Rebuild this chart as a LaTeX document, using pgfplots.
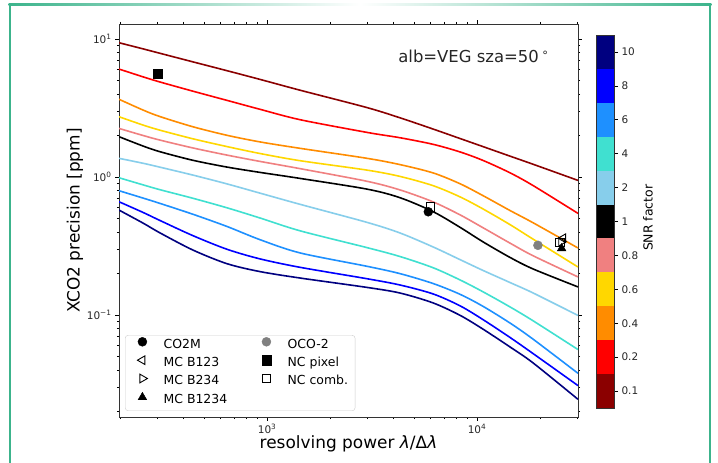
\documentclass[border=0pt]{standalone}
\usepackage{fontspec}
\setmainfont{DejaVu Sans}
\usepackage{pgfplots}
\pgfplotsset{compat=1.18}
\usepackage{pgfplotstable}

\definecolor{c01}{RGB}{139,0,0}
\definecolor{c02}{RGB}{255,0,0}
\definecolor{c04}{RGB}{255,140,0}
\definecolor{c06}{RGB}{255,215,0}
\definecolor{c08}{RGB}{240,128,128}
\definecolor{c1}{RGB}{0,0,0}
\definecolor{c2}{RGB}{135,206,235}
\definecolor{c4}{RGB}{64,224,208}
\definecolor{c6}{RGB}{30,144,255}
\definecolor{c8}{RGB}{0,0,255}
\definecolor{c10}{RGB}{0,0,128}
\definecolor{frm}{RGB}{60,180,140}
\definecolor{oco}{RGB}{128,128,128}

\pgfplotstableread{
x     a01   a02   a04   a06   a08    a1     a2     a4     a6     a8     a10
197   9.40  6.06  3.66  2.735 2.25   1.96   1.366  0.988  0.796  0.662  0.576
257   8.478 5.314 3.053 2.377 1.998  1.675  1.257  0.8766 0.7031 0.553  0.4627
309   7.88  4.880 2.740 2.184 1.851  1.525  1.178  0.809  0.6437 0.4839 0.3935
444   6.826 4.185 2.311 1.891 1.623  1.321  1.032  0.701  0.5367 0.3755 0.2953
645   5.892 3.591 2.005 1.661 1.441  1.180  0.891  0.598  0.4378 0.2993 0.2353
926   5.096 3.094 1.796 1.480 1.297  1.080  0.764  0.5045 0.3513 0.2550 0.2063
1436  4.256 2.602 1.614 1.313 1.150  0.977  0.634  0.4075 0.2818 0.2216 0.1854
2994  3.184 2.105 1.366 1.122 0.931  0.817  0.469  0.3078 0.2254 0.1832 0.1585
4298  2.685 1.926 1.230 1.010 0.806  0.708  0.393  0.2653 0.1995 0.1650 0.1443
6173  2.227 1.726 1.071 0.866 0.661  0.5613 0.3115 0.2202 0.1692 0.1422 0.1224
8299  1.901 1.520 0.894 0.718 0.532  0.432  0.252  0.1796 0.1413 0.1166 0.0995
10680 1.661 1.319 0.733 0.587 0.429  0.339  0.2104 0.1473 0.1156 0.0926 0.0790
14355 1.417 1.073 0.572 0.452 0.332  0.2615 0.1720 0.1145 0.0875 0.0688 0.0587
18478 1.238 0.868 0.4665 0.355 0.269 0.2158 0.1446 0.0909 0.0669 0.0526 0.0450
30270 0.945 0.545 0.306 0.2228 0.1888 0.1598 0.0993 0.0562 0.0378 0.0308 0.0245
}\curves

\pgfplotsset{
  crv/.style={line width=1.6bp, smooth, tension=0.5, forget plot, no markers},
  mk/.style={only marks, legend image code/.code={\path (-12bp,0bp) (19bp,0bp); \draw[##1] plot coordinates {(0bp,3.5bp)};}},
}

\begin{document}
\begin{tikzpicture}
\useasboundingbox (0,0) rectangle (718bp,463bp);
\fill[white] (0,0) rectangle (718bp,463bp);
% outer frame
\draw[frm, line width=2.6bp] (10bp,-5bp) -- (10bp,458.5bp);
\draw[frm, line width=2.6bp] (710bp,-5bp) -- (710bp,458.5bp);
\shade[left color=frm, right color=frm, middle color=white] (8.7bp,457.2bp) rectangle (711.3bp,459.8bp);

\begin{axis}[
  at={(119bp,46bp)}, anchor=south west, scale only axis,
  width=459bp, height=393bp,
  xmode=log, ymode=log,
  xmin=197, xmax=30270, ymin=0.01824, ymax=12.85,
  xtick={1000,10000}, xticklabels={10\textsuperscript{3},10\textsuperscript{4}},
  ytick={0.1,1,10}, yticklabels={10\textsuperscript{−1},10\textsuperscript{0},10\textsuperscript{1}},
  minor xtick={200,300,400,500,600,700,800,900,2000,3000,4000,5000,6000,7000,8000,9000,20000,30000},
  minor ytick={0.02,0.03,0.04,0.05,0.06,0.07,0.08,0.09,0.2,0.3,0.4,0.5,0.6,0.7,0.8,0.9,2,3,4,5,6,7,8,9},
  tick align=outside, major tick length=4bp, minor tick length=2.2bp,
  every tick/.style={black, line width=0.6bp},
  ticklabel style={font=\fontsize{10.5}{12}\selectfont, text=black!85},
  axis line style={line width=0.8bp, black!80},
  xlabel={resolving power \textit{λ}/Δ\textit{λ}},
  ylabel={XCO2 precision [ppm]},
  label style={font=\fontsize{17}{20}\selectfont},
  xlabel style={at={(axis description cs:0.5,-0.0685)}, anchor=center},
  ylabel style={at={(axis description cs:-0.0959,0.5)}, anchor=center},
  legend columns=2, legend cell align=left,
  legend style={at={(axis description cs:0.0131,0.0153)}, anchor=south west,
    draw=black!20, rounded corners=3bp, fill=white,
    font=\fontsize{12.5}{14}\selectfont,
    inner xsep=5bp, inner ysep=2bp, row sep=2.3bp,
    nodes={inner sep=2bp, text height=9bp, text depth=3bp},
    /tikz/every even column/.append style={column sep=25bp}},
]
\addplot[crv, c01] table[x=x, y=a01] {\curves};
\addplot[crv, c02] table[x=x, y=a02] {\curves};
\addplot[crv, c04] table[x=x, y=a04] {\curves};
\addplot[crv, c06] table[x=x, y=a06] {\curves};
\addplot[crv, c08] table[x=x, y=a08] {\curves};
\addplot[crv, c1]  table[x=x, y=a1]  {\curves};
\addplot[crv, c2]  table[x=x, y=a2]  {\curves};
\addplot[crv, c4]  table[x=x, y=a4]  {\curves};
\addplot[crv, c6]  table[x=x, y=a6]  {\curves};
\addplot[crv, c8]  table[x=x, y=a8]  {\curves};
\addplot[crv, c10] table[x=x, y=a10] {\curves};

\addplot[mk, mark=*, black, mark size=4.5bp] coordinates {(5860,0.56)};
\addlegendentry{CO2M}
\addplot[mk, mark=*, oco, mark size=4.5bp] coordinates {(19500,0.32)};
\addlegendentry{OCO-2}
\addplot[mk, mark=triangle, black, mark size=5bp, mark options={rotate=90, line width=0.9bp}] coordinates {(25700,0.36)};
\addlegendentry{MC B123}
\addplot[mk, mark=square*, black, mark size=4.6bp] coordinates {(300,5.57)};
\addlegendentry{NC pixel}
\addplot[mk, mark=triangle, black, mark size=5bp, mark options={rotate=-90, line width=0.9bp}] coordinates {(25200,0.34)};
\addlegendentry{MC B234}
\addplot[mk, mark=square, black, mark size=4.3bp, mark options={line width=0.9bp}] coordinates {(6010,0.61) (24800,0.335)};
\addlegendentry{NC comb.}
\addplot[mk, mark=triangle*, black, mark size=5bp] coordinates {(25300,0.304)};
\addlegendentry{MC B1234}

\node[anchor=base west, font=\fontsize{16.5}{19}\selectfont, text=black!85] at (axis description cs:0.601,0.9015) {alb=VEG sza=50\,\textsuperscript{∘}};
\end{axis}

\begin{axis}[
  at={(596bp,55bp)}, anchor=south west, scale only axis,
  width=18bp, height=373bp,
  xmin=0, xmax=1, ymin=0, ymax=11,
  xtick=\empty,
  ytick={0.5,1.5,2.5,3.5,4.5,5.5,6.5,7.5,8.5,9.5,10.5},
  yticklabels={0.1,0.2,0.4,0.6,0.8,1,2,4,6,8,10},
  ytick pos=right, yticklabel pos=right,
  tick align=outside, major tick length=4bp,
  every tick/.style={black, line width=0.6bp},
  ticklabel style={font=\fontsize{10.5}{12}\selectfont, text=black!85},
  axis line style={line width=0.8bp, black!80},
  axis on top,
  ylabel={SNR factor},
  ylabel style={at={(axis description cs:2.889,0.51)}, anchor=center, rotate=0, font=\fontsize{12.5}{14}\selectfont},
]
\addplot[draw=none, fill=c01] coordinates {(0,0) (1,0) (1,1) (0,1)} -- cycle;
\addplot[draw=none, fill=c02] coordinates {(0,1) (1,1) (1,2) (0,2)} -- cycle;
\addplot[draw=none, fill=c04] coordinates {(0,2) (1,2) (1,3) (0,3)} -- cycle;
\addplot[draw=none, fill=c06] coordinates {(0,3) (1,3) (1,4) (0,4)} -- cycle;
\addplot[draw=none, fill=c08] coordinates {(0,4) (1,4) (1,5) (0,5)} -- cycle;
\addplot[draw=none, fill=c1]  coordinates {(0,5) (1,5) (1,6) (0,6)} -- cycle;
\addplot[draw=none, fill=c2]  coordinates {(0,6) (1,6) (1,7) (0,7)} -- cycle;
\addplot[draw=none, fill=c4]  coordinates {(0,7) (1,7) (1,8) (0,8)} -- cycle;
\addplot[draw=none, fill=c6]  coordinates {(0,8) (1,8) (1,9) (0,9)} -- cycle;
\addplot[draw=none, fill=c8]  coordinates {(0,9) (1,9) (1,10) (0,10)} -- cycle;
\addplot[draw=none, fill=c10] coordinates {(0,10) (1,10) (1,11) (0,11)} -- cycle;
\end{axis}
\end{tikzpicture}
\end{document}
